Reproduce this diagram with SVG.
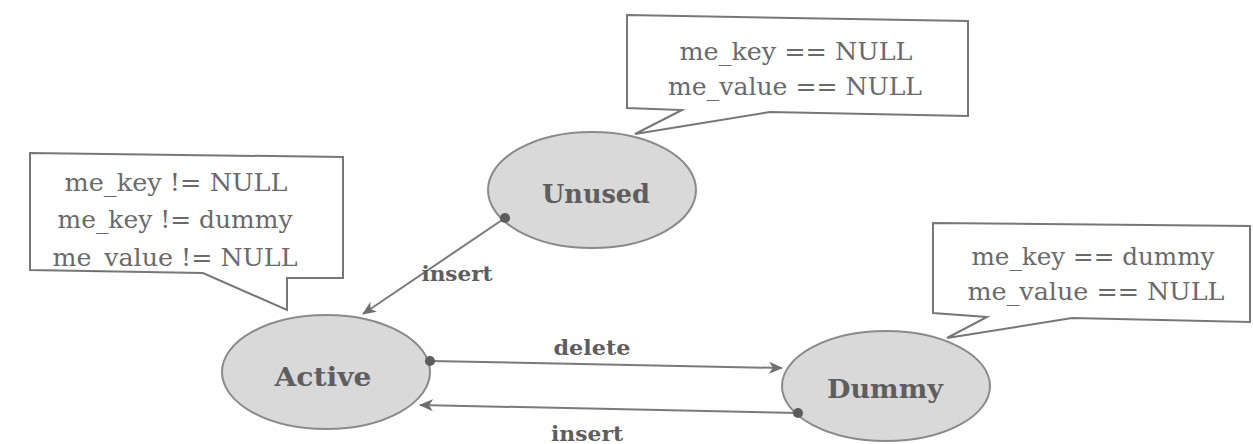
<svg xmlns="http://www.w3.org/2000/svg" width="1253" height="444" viewBox="0 0 1253 444">
  <style>
    .state { fill: #d9d9d9; stroke: #8a8a8a; stroke-width: 2; }
    .state-label { font-family: "DejaVu Serif", "Liberation Serif", serif; font-weight: bold; font-size: 26px; fill: #5e5e5e; text-anchor: middle; }
    .note { fill: #ffffff; stroke: #777777; stroke-width: 2; stroke-linejoin: miter; }
    .note-text { font-family: "DejaVu Serif", "Liberation Serif", serif; font-size: 25px; fill: #6a6a6a; text-anchor: middle; }
    .edge { stroke: #7a7a7a; stroke-width: 2; fill: none; marker-start: url(#dot); marker-end: url(#arrow); }
    .edge-label { font-family: "DejaVu Serif", "Liberation Serif", serif; font-weight: bold; font-size: 21px; fill: #5e5e5e; text-anchor: middle; }
  </style>
  <defs>
    <marker id="arrow" viewBox="0 0 14 12" refX="13" refY="6" markerWidth="14" markerHeight="12" orient="auto" markerUnits="userSpaceOnUse">
      <path d="M0,0 L14,6 L0,12 L4,6 Z" fill="#6e6e6e"/>
    </marker>
    <marker id="dot" viewBox="0 0 12 12" refX="6" refY="6" markerWidth="11" markerHeight="11" markerUnits="userSpaceOnUse">
      <circle cx="6" cy="6" r="5.5" fill="#5c5c5c"/>
    </marker>
  </defs>

  <rect width="1253" height="444" fill="#fefefe"/>

  <!-- callout notes -->
  <g id="note-unused">
    <path class="note" d="M627,15 L968,21 L968,116 L770,112 L635,134 L682,110 L627,108 Z"/>
    <text class="note-text" x="796" y="60" textLength="233" lengthAdjust="spacingAndGlyphs">me_key == NULL</text>
    <text class="note-text" x="795" y="95" textLength="254" lengthAdjust="spacingAndGlyphs">me_value == NULL</text>
  </g>
  <g id="note-active">
    <path class="note" d="M30,153 L343,157 L343,278 L287,278 L287,310 L203,273 L30,270 Z"/>
    <text class="note-text" x="176" y="191" textLength="223" lengthAdjust="spacingAndGlyphs">me_key != NULL</text>
    <text class="note-text" x="175" y="228" textLength="235" lengthAdjust="spacingAndGlyphs">me_key != dummy</text>
    <text class="note-text" x="175" y="266" textLength="245" lengthAdjust="spacingAndGlyphs">me_value != NULL</text>
  </g>
  <g id="note-dummy">
    <path class="note" d="M933,223 L1250,226 L1250,322 L1072,318 L947,338 L987,317 L933,313 Z"/>
    <text class="note-text" x="1093" y="265" textLength="243" lengthAdjust="spacingAndGlyphs">me_key == dummy</text>
    <text class="note-text" x="1096" y="300" textLength="257" lengthAdjust="spacingAndGlyphs">me_value == NULL</text>
  </g>

  <!-- states -->
  <g id="state-unused">
    <ellipse class="state" cx="592" cy="190" rx="104" ry="58"/>
    <text class="state-label" x="596" y="203" textLength="108" lengthAdjust="spacingAndGlyphs">Unused</text>
  </g>
  <g id="state-active">
    <ellipse class="state" cx="326" cy="372" rx="104" ry="57"/>
    <text class="state-label" x="323" y="386" textLength="97" lengthAdjust="spacingAndGlyphs">Active</text>
  </g>
  <g id="state-dummy">
    <ellipse class="state" cx="886" cy="386" rx="104" ry="55"/>
    <text class="state-label" x="885" y="398" textLength="116" lengthAdjust="spacingAndGlyphs">Dummy</text>
  </g>

  <!-- transitions -->
  <g id="connectors">
    <path class="edge" d="M505,218 L363,314"/>
    <text class="edge-label" x="457" y="281" textLength="71" lengthAdjust="spacingAndGlyphs">insert</text>
    <path class="edge" d="M430,361 L782,368"/>
    <text class="edge-label" x="592" y="355" textLength="77" lengthAdjust="spacingAndGlyphs">delete</text>
    <path class="edge" d="M798,413 L420,405"/>
    <text class="edge-label" x="587" y="441" textLength="72" lengthAdjust="spacingAndGlyphs">insert</text>
  </g>
</svg>
